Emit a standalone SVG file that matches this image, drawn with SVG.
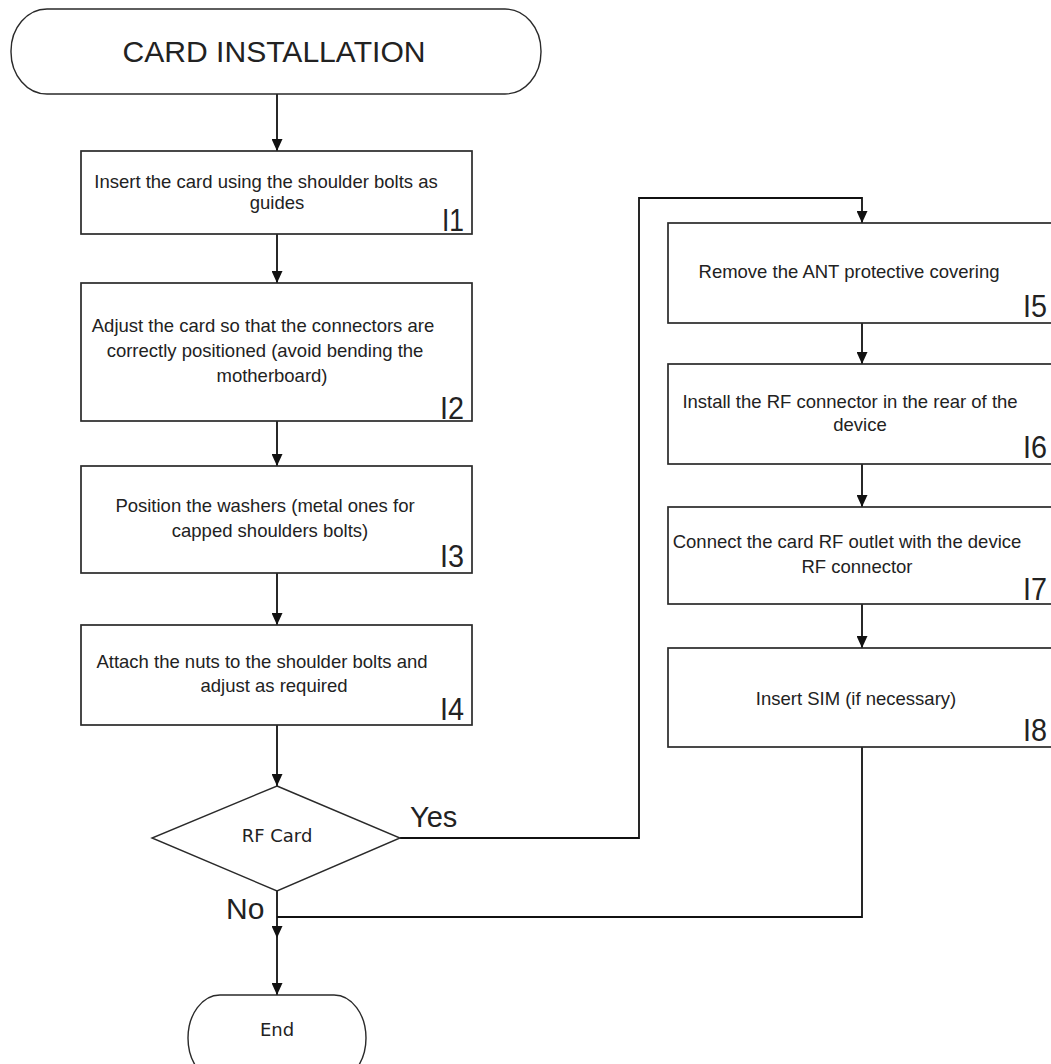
<svg xmlns="http://www.w3.org/2000/svg" width="1051" height="1064" viewBox="0 0 1051 1064">
<style>
.box{fill:#fff;stroke:#2a2a2a;stroke-width:1.7}
.term{fill:#fff;stroke:#2a2a2a;stroke-width:1.4}
.dia{fill:#fff;stroke:#2a2a2a;stroke-width:1.4}
.con{fill:none;stroke:#111;stroke-width:1.8}
.t{font-family:"Liberation Sans",Arial,sans-serif;font-size:18.5px;fill:#222;text-anchor:middle}
.lbl{font-family:"Liberation Sans",Arial,sans-serif;font-size:31px;fill:#222;text-anchor:end}
.big{font-family:"Liberation Sans",Arial,sans-serif;font-size:29px;fill:#222}
.sm{font-family:"DejaVu Sans","Liberation Sans",sans-serif;font-size:18px;fill:#222;text-anchor:middle}
</style>
<defs>
<marker id="arr" markerWidth="12" markerHeight="11" refX="12" refY="5.5" orient="auto" markerUnits="userSpaceOnUse"><path d="M0,0 L12,5.5 L0,11 z" fill="#111"/></marker>
</defs>
<rect width="1051" height="1064" fill="#fff"/>

<g id="connectors">
<line class="con" x1="277" y1="94" x2="277" y2="151" marker-end="url(#arr)"/>
<line class="con" x1="277" y1="234" x2="277" y2="283" marker-end="url(#arr)"/>
<line class="con" x1="277" y1="421" x2="277" y2="466" marker-end="url(#arr)"/>
<line class="con" x1="277" y1="573" x2="277" y2="625" marker-end="url(#arr)"/>
<line class="con" x1="277" y1="725" x2="277" y2="786" marker-end="url(#arr)"/>
<polyline class="con" points="400,838 639,838 639,198 862,198 862,223" marker-end="url(#arr)"/>
<line class="con" x1="862" y1="323" x2="862" y2="364" marker-end="url(#arr)"/>
<line class="con" x1="862" y1="464" x2="862" y2="507" marker-end="url(#arr)"/>
<line class="con" x1="862" y1="604" x2="862" y2="648" marker-end="url(#arr)"/>
<polyline class="con" points="862,747 862,917 277,917"/>
<line class="con" x1="277" y1="891" x2="277" y2="938" marker-end="url(#arr)"/>
<line class="con" x1="277" y1="938" x2="277" y2="995" marker-end="url(#arr)"/>
<text class="big" x="410" y="827">Yes</text>
<text class="big" x="226" y="919" style="font-size:30px">No</text>
</g>

<g id="start">
<rect class="term" x="11" y="9" width="530" height="85" rx="36" ry="42"/>
<text x="274" y="62" style="font-family:'Liberation Sans',Arial,sans-serif;font-size:29px;fill:#222;text-anchor:middle" textLength="303" lengthAdjust="spacingAndGlyphs">CARD INSTALLATION</text>
</g>

<g id="I1">
<rect class="box" x="81" y="151" width="391" height="83"/>
<text class="t" x="266" y="188">Insert the card using the shoulder bolts as</text>
<text class="t" x="277" y="209">guides</text>
<text class="lbl" x="464" y="231" textLength="22" lengthAdjust="spacingAndGlyphs">I1</text>
</g>

<g id="I2">
<rect class="box" x="81" y="283" width="391" height="138"/>
<text class="t" x="263" y="332">Adjust the card so that the connectors are</text>
<text class="t" x="265" y="357">correctly positioned (avoid bending the</text>
<text class="t" x="272" y="382">motherboard)</text>
<text class="lbl" x="464" y="419" textLength="24" lengthAdjust="spacingAndGlyphs">I2</text>
</g>

<g id="I3">
<rect class="box" x="81" y="466" width="391" height="107"/>
<text class="t" x="265" y="512">Position the washers (metal ones for</text>
<text class="t" x="270" y="537">capped shoulders bolts)</text>
<text class="lbl" x="464" y="567" textLength="24" lengthAdjust="spacingAndGlyphs">I3</text>
</g>

<g id="I4">
<rect class="box" x="81" y="625" width="391" height="100"/>
<text class="t" x="262" y="668">Attach the nuts to the shoulder bolts and</text>
<text class="t" x="274" y="692">adjust as required</text>
<text class="lbl" x="464" y="720" textLength="24" lengthAdjust="spacingAndGlyphs">I4</text>
</g>

<g id="decision">
<polygon class="dia" points="277,786 400,838 277,891 152,838"/>
<text class="sm" x="277" y="842">RF Card</text>
</g>

<g id="I5">
<rect class="box" x="668" y="223" width="392" height="100"/>
<text class="t" x="849" y="278">Remove the ANT protective covering</text>
<text class="lbl" x="1047" y="317" textLength="24" lengthAdjust="spacingAndGlyphs">I5</text>
</g>

<g id="I6">
<rect class="box" x="668" y="364" width="392" height="100"/>
<text class="t" x="850" y="408">Install the RF connector in the rear of the</text>
<text class="t" x="860" y="431">device</text>
<text class="lbl" x="1047" y="458" textLength="24" lengthAdjust="spacingAndGlyphs">I6</text>
</g>

<g id="I7">
<rect class="box" x="668" y="507" width="392" height="97"/>
<text class="t" x="847" y="548">Connect the card RF outlet with the device</text>
<text class="t" x="857" y="573">RF connector</text>
<text class="lbl" x="1047" y="600" textLength="24" lengthAdjust="spacingAndGlyphs">I7</text>
</g>

<g id="I8">
<rect class="box" x="668" y="648" width="392" height="99"/>
<text class="t" x="856" y="705">Insert SIM (if necessary)</text>
<text class="lbl" x="1047" y="741" textLength="24" lengthAdjust="spacingAndGlyphs">I8</text>
</g>

<g id="end">
<rect class="term" x="188" y="995" width="178" height="86" rx="32" ry="43"/>
<text class="sm" x="277" y="1036">End</text>
</g>
</svg>
